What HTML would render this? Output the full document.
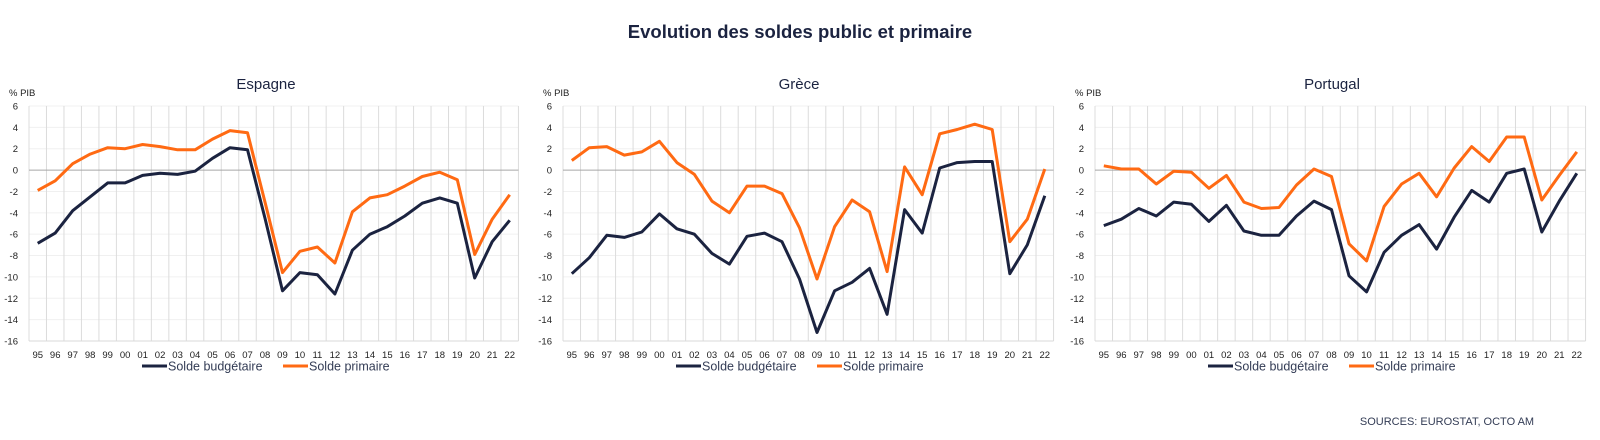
<!DOCTYPE html>
<html><head><meta charset="utf-8"><style>
html,body{margin:0;padding:0;background:#fff;}
body{width:1600px;height:435px;overflow:hidden;font-family:"Liberation Sans",sans-serif;}
svg text{font-family:"Liberation Sans",sans-serif;}
</style></head><body>
<svg id="s" width="1600" height="435" viewBox="0 0 1600 435">
<text x="800" y="38" text-anchor="middle" font-size="18.5" font-weight="bold" fill="#1b2340">Evolution des soldes public et primaire</text>
<text x="1447" y="425" text-anchor="middle" font-size="11" fill="#333c55">SOURCES: EUROSTAT, OCTO AM</text>
</svg>
<script>
const categories=["95","96","97","98","99","00","01","02","03","04","05","06","07","08","09","10","11","12","13","14","15","16","17","18","19","20","21","22"];
const yTicks=[6,4,2,0,-2,-4,-6,-8,-10,-12,-14,-16];
const titles=["Espagne","Grèce","Portugal"];
const espBudget=[-6.85,-5.9,-3.8,-2.5,-1.2,-1.2,-0.5,-0.3,-0.4,-0.1,1.1,2.1,1.9,-4.5,-11.3,-9.6,-9.8,-11.6,-7.5,-6.0,-5.3,-4.3,-3.1,-2.6,-3.1,-10.1,-6.7,-4.7];
const espPrimary=[-1.9,-1.0,0.6,1.5,2.1,2.0,2.4,2.2,1.9,1.9,2.9,3.7,3.5,-3.0,-9.6,-7.6,-7.2,-8.7,-3.9,-2.6,-2.3,-1.5,-0.6,-0.2,-0.9,-7.9,-4.6,-2.3];
const greBudget=[-9.7,-8.2,-6.1,-6.3,-5.8,-4.1,-5.5,-6.0,-7.8,-8.8,-6.2,-5.9,-6.7,-10.2,-15.2,-11.3,-10.5,-9.2,-13.5,-3.7,-5.9,0.2,0.7,0.8,0.8,-9.7,-7.0,-2.4];
const grePrimary=[0.9,2.1,2.2,1.4,1.7,2.7,0.7,-0.4,-2.9,-4.0,-1.5,-1.5,-2.2,-5.4,-10.2,-5.3,-2.8,-3.9,-9.5,0.3,-2.3,3.4,3.8,4.3,3.8,-6.7,-4.6,0.1];
const porBudget=[-5.2,-4.6,-3.6,-4.3,-3.0,-3.2,-4.8,-3.3,-5.7,-6.1,-6.1,-4.3,-2.9,-3.7,-9.9,-11.4,-7.7,-6.1,-5.1,-7.4,-4.4,-1.9,-3.0,-0.3,0.1,-5.8,-2.9,-0.3];
const porPrimary=[0.4,0.1,0.1,-1.3,-0.1,-0.2,-1.7,-0.5,-3.0,-3.6,-3.5,-1.4,0.1,-0.6,-6.9,-8.5,-3.4,-1.3,-0.3,-2.5,0.2,2.2,0.8,3.1,3.1,-2.8,-0.5,1.7];
const budgets=[espBudget,greBudget,porBudget];
const primaries=[espPrimary,grePrimary,porPrimary];
const NS="http://www.w3.org/2000/svg";
const svg=document.getElementById('s');
const panels=[{left:29,step:17.48,title:266},{left:563,step:17.52,title:799},{left:1095,step:17.52,title:1332}];
const yTop=106,yBot=341;
function mk(tag,attrs,parent){const e=document.createElementNS(NS,tag);for(const k in attrs)e.setAttribute(k,attrs[k]);(parent||svg).appendChild(e);return e;}
panels.forEach((p,pi)=>{
  const g=mk('g',{});
  
  
  const n=categories.length;
  const right=p.left+p.step*n;
  const xs=i=>p.left+p.step*(i+0.5);
  const ys=v=>yTop+(6-v)*(yBot-yTop)/22;
  const t=mk('text',{x:p.title,y:89,'text-anchor':'middle','font-size':15,fill:'#1b2340'},g);t.textContent=titles[pi];
  
  
  const u=mk('text',{x:p.left-20,y:96,'font-size':9.5,fill:'#222'},g);u.textContent='% PIB';
  
  
  yTicks.forEach(v=>{
    if(v!==0){const l=mk('line',{x1:p.left,x2:right,y1:ys(v),y2:ys(v),stroke:'#f0f0f0','stroke-width':1},g);
    
    }
    const tx=mk('text',{x:p.left-11,y:ys(v)+3.5,'text-anchor':'end','font-size':9.5,fill:'#222'},g);tx.textContent=v;
    
    
  });
  for(let i=0;i<=n;i++){const l=mk('line',{x1:p.left+p.step*i,x2:p.left+p.step*i,y1:yTop,y2:yBot,stroke:'#dcdcdc','stroke-width':1},g);
    
    }
  const b=mk('line',{x1:p.left,x2:right,y1:yBot,y2:yBot,stroke:'#d9d9d9','stroke-width':1},g);
  
  
  const z=mk('line',{x1:p.left,x2:right,y1:ys(0),y2:ys(0),stroke:'#a6a6a6','stroke-width':1},g);
  
  
  categories.forEach((c,i)=>{const tx=mk('text',{x:xs(i),y:358,'text-anchor':'middle','font-size':9.5,fill:'#222'},g);tx.textContent=c;
    
    });
  const path=(arr,col,name)=>{const d=arr.map((v,i)=>(i?'L':'M')+xs(i).toFixed(1)+','+ys(v).toFixed(1)).join('');
    const e=mk('path',{d:d,fill:'none',stroke:col,'stroke-width':3,'stroke-linejoin':'round'},g);
    
    };
  path(primaries[pi],'#ff6a13','line-solde-primaire');
  path(budgets[pi],'#1b2340','line-solde-budgetaire');
  const lx=p.left+113;
  const l1=mk('line',{x1:lx,x2:lx+25,y1:366,y2:366,stroke:'#1b2340','stroke-width':3},g);
  
  
  const t1=mk('text',{x:lx+26,y:370.5,'font-size':12.5,fill:'#333c55'},g);t1.textContent='Solde budgétaire';
  
  
  const l2=mk('line',{x1:lx+141,x2:lx+166,y1:366,y2:366,stroke:'#ff6a13','stroke-width':3},g);
  
  
  const t2=mk('text',{x:lx+167,y:370.5,'font-size':12.5,fill:'#333c55'},g);t2.textContent='Solde primaire';
  
  
});
</script>
</body></html>
